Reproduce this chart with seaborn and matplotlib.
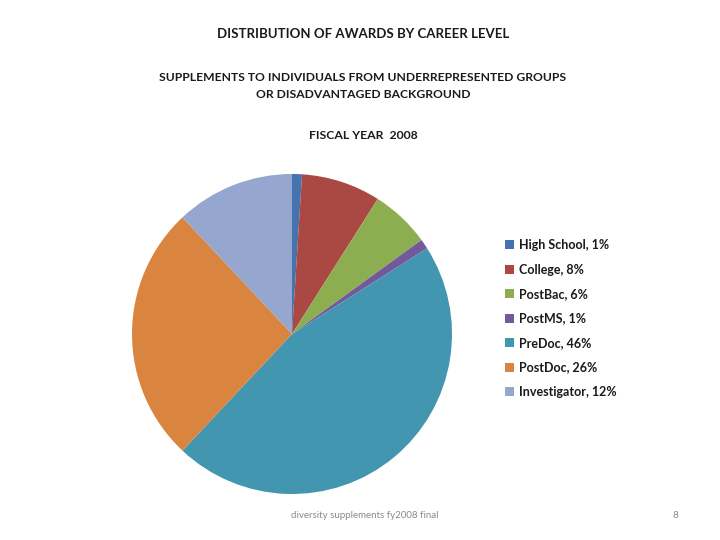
import matplotlib.pyplot as plt
import seaborn as sns
from matplotlib.patches import Patch

# data
levels = ['High School', 'College', 'PostBac', 'PostMS', 'PreDoc', 'PostDoc', 'Investigator']
shares = [1, 8, 6, 1, 46, 26, 12]
colors = ['#4672AE', '#AA4844', '#8DAE50', '#72599A', '#4396B0', '#DA853F', '#95A7CF']

title_lines = ['DISTRIBUTION OF AWARDS BY CAREER LEVEL',
               'SUPPLEMENTS TO INDIVIDUALS FROM UNDERREPRESENTED GROUPS\nOR DISADVANTAGED BACKGROUND',
               'FISCAL YEAR  2008']
footer = 'diversity supplements fy2008 final'
page_no = '8'

sns.set_theme(style='white')
plt.rcParams['font.family'] = ['Lato', 'DejaVu Sans']

fig = plt.figure(figsize=(7.2, 5.4), dpi=100)
fig.patch.set_facecolor('white')

# pie centred around (292, 334) px, radius ~160 px
ax = fig.add_axes([132 / 720, (540 - 334 - 160) / 540, 320 / 720, 320 / 540])
pal = sns.color_palette(colors)
ax.pie(shares, colors=pal, startangle=90, counterclock=False,
       wedgeprops=dict(linewidth=0), radius=1.0)
ax.set_xlim(-1, 1)
ax.set_ylim(-1, 1)
ax.axis('off')

handles = [Patch(facecolor=c, edgecolor='none') for c in pal]
labels = [f'{n}, {s}%' for n, s in zip(levels, shares)]
leg = fig.legend(handles, labels, loc='upper left', bbox_to_anchor=(500 / 720, 1 - 234 / 540),
                 frameon=False, handlelength=0.75, handleheight=0.75, handletextpad=0.35,
                 labelspacing=1.0, prop=dict(size=9, weight='bold'), borderaxespad=0)
for t in leg.get_texts():
    t.set_color('#1a1a1a')

fig.text(363 / 720, 1 - 34 / 540, title_lines[0], ha='center', va='center',
         fontsize=9.5, weight='bold', color='#1a1a1a')
fig.text(363 / 720, 1 - 86 / 540, title_lines[1], ha='center', va='center',
         fontsize=8.7, weight='bold', color='#1a1a1a', linespacing=1.75)
fig.text(363 / 720, 1 - 136 / 540, title_lines[2], ha='center', va='center',
         fontsize=8.8, weight='bold', color='#1a1a1a')

fig.text(365 / 720, 1 - 516 / 540, footer, ha='center', va='center', fontsize=7, color='#8a8a8a')
fig.text(675 / 720, 1 - 516 / 540, page_no, ha='center', va='center', fontsize=7, color='#8a8a8a')

fig.savefig('out.png', dpi=100, facecolor='white')
